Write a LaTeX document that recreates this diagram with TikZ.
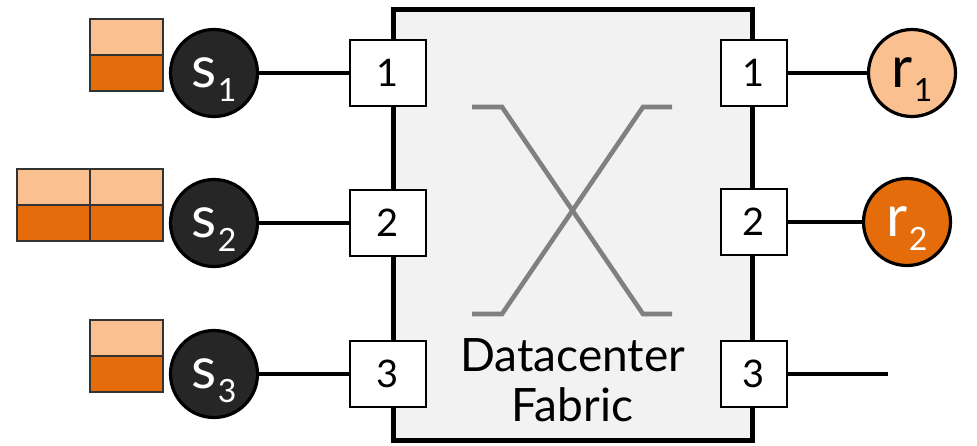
\documentclass[tikz,border=0pt]{standalone}
\usepackage{fontspec}
\setmainfont{Lato}
\usetikzlibrary{positioning}
\definecolor{ink}{HTML}{000000}
\definecolor{hostdark}{HTML}{262626}
\definecolor{fabricbg}{HTML}{F2F2F2}
\definecolor{crossgray}{HTML}{808080}
\definecolor{pktlight}{HTML}{FAC090}
\definecolor{pktdark}{HTML}{E46C0A}
\newcommand{\hostidx}[1]{\kern0.5pt\smash{\raisebox{-7pt}{\fontsize{16}{16}\selectfont #1}}}
\tikzset{
  fabricbox/.style={draw=ink,fill=fabricbg,line width=2.5pt,minimum width=179.5pt,minimum height=215.5pt,inner sep=0pt},
  portbox/.style={draw=ink,fill=white,line width=1.3pt,minimum height=33pt,inner sep=0pt,font=\fontsize{19}{19}\selectfont},
  inport/.style={portbox,minimum width=38pt},
  outport/.style={portbox,minimum width=33pt},
  hostnode/.style={circle,draw=ink,line width=1.6pt,minimum size=43.5pt,inner sep=0pt,font=\fontsize{29}{29}\selectfont},
  sendnode/.style={hostnode,fill=hostdark,text=white},
  recvlight/.style={hostnode,fill=pktlight},
  recvdark/.style={hostnode,fill=pktdark,text=white},
  cell/.style={draw=ink!80,line width=0.7pt,minimum width=36.5pt,minimum height=18pt,inner sep=0pt,outer sep=0pt},
  lightcell/.style={cell,fill=pktlight},
  darkcell/.style={cell,fill=pktdark},
  linkline/.style={line width=2.2pt,color=ink},
  crossline/.style={line width=2.3pt,color=crossgray}
}

\begin{document}
\begin{tikzpicture}[x=0.5pt,y=-0.5pt]
  \useasboundingbox (0,0) rectangle (977,445);
  % fabric
  \node[fabricbox] (fabric) at (572.5,224.5) {};
  \draw[crossline] (472,107) -- (502,107) -- (643,314) -- (672,314);
  \draw[crossline] (472,314) -- (502,314) -- (643,107) -- (672,107);
  \node[align=center,font=\fontsize{23}{25}\selectfont] (fablabel) at (572.5,380) {Datacenter\\Fabric};
  % ports
  \node[inport] (in1) at (388,73) {1};
  \node[inport] (in2) at (388,223) {2};
  \node[inport] (in3) at (388,374) {3};
  \node[outport] (out1) at (754,73) {1};
  \node[outport] (out2) at (754,222) {2};
  \node[outport] (out3) at (754,374) {3};
  % senders
  \node[sendnode] (s1) at (214,73) {s\hostidx{1}};
  \node[sendnode] (s2) at (214,223) {s\hostidx{2}};
  \node[sendnode] (s3) at (214,374) {s\hostidx{3}};
  % receivers
  \node[recvlight] (r1) at (912,73) {r\hostidx{1}};
  \node[recvdark] (r2) at (907,222) {r\hostidx{2}};
  \coordinate (end3) at (888,374);
  % queues
  \node[darkcell,left=3pt of s1] (q1b) {};
  \node[lightcell,above=0pt of q1b] (q1a) {};
  \node[darkcell,left=3pt of s2] (q2b) {};
  \node[lightcell,above=0pt of q2b] (q2a) {};
  \node[darkcell,left=0pt of q2b] (q2d) {};
  \node[lightcell,above=0pt of q2d] (q2c) {};
  \node[darkcell,left=3pt of s3] (q3b) {};
  \node[lightcell,above=0pt of q3b] (q3a) {};
  % links
  \draw[linkline] (s1) -- (in1);
  \draw[linkline] (s2) -- (in2);
  \draw[linkline] (s3) -- (in3);
  \draw[linkline] (out1) -- (r1);
  \draw[linkline] (out2) -- (r2);
  \draw[linkline] (out3) -- (end3);
\end{tikzpicture}
\end{document}
